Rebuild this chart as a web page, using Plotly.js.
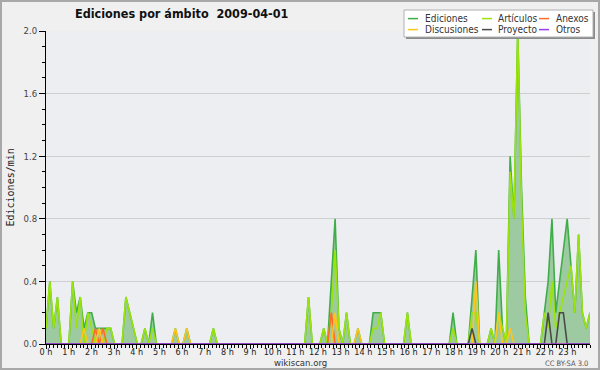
<!DOCTYPE html>
<html><head><meta charset="utf-8">
<script src="https://cdn.plot.ly/plotly-3.0.1.min.js"></script>
<style>html,body{margin:0;padding:0;background:#f0f0f0}#chart{width:600px;height:370px}</style>
</head><body><div id="chart"></div>
<script>
// 10-minute slots, 144 per day (edits per minute)
const ediciones = [
 0.1,0.4,0.1,0.3,0,0,   0,0.4,0.2,0.3,0.1,0.2,   0.2,0.1,0.1,0.1,0.1,0.1,   0,0,0,0.3,0.2,0.1,
 0,0,0.1,0,0.2,0,       0,0,0,0,0.1,0,           0,0.1,0,0,0,0,           0,0,0.1,0,0,0,
 0,0,0,0,0,0,           0,0,0,0,0,0,             0,0,0,0,0,0,             0,0,0,0.3,0,0,
 0,0.1,0,0.4,0.8,0.1,   0,0.2,0,0,0.1,0,         0,0,0.2,0.2,0.2,0,       0,0,0,0,0,0.2,
 0,0,0,0,0,0,           0,0,0,0,0,0.2,           0,0,0,0,0.3,0.6,         0,0,0,0.1,0,0.6,
 0.1,0,1.2,0.8,2.0,1.0, 0.3,0,0,0,0,0.2,         0.4,0.8,0.2,0.4,0.6,0.8, 0.5,0.2,0.7,0.2,0.1,0.2
];
const articulos = [
 0.1,0.4,0.1,0.3,0,0,   0,0.4,0.1,0.3,0,0.2,     0.1,0,0,0,0.1,0.1,       0,0,0,0.3,0.2,0.1,
 0,0,0.1,0,0.1,0,       0,0,0,0,0,0,             0,0,0,0,0,0,             0,0,0.1,0,0,0,
 0,0,0,0,0,0,           0,0,0,0,0,0,             0,0,0,0,0,0,             0,0,0,0.3,0,0,
 0,0.1,0,0.2,0.6,0.1,   0,0.2,0,0,0,0,           0,0,0.1,0.1,0.2,0,       0,0,0,0,0,0.2,
 0,0,0,0,0,0,           0,0,0,0,0,0.1,           0,0,0,0,0.2,0.2,         0,0,0,0.1,0,0.2,
 0.1,0,1.1,0.8,2.0,0.9, 0.2,0,0,0,0,0.2,         0.1,0.4,0.1,0.2,0.3,0.4, 0.5,0.2,0.7,0.2,0.1,0.2
];
const anexos = [
 0,0,0,0,0,0,   0,0,0,0,0,0,   0,0.1,0,0.1,0,0,   0,0,0,0,0,0,
 0,0,0,0,0,0,   0,0,0,0,0,0,   0,0,0,0,0,0,   0,0,0,0,0,0,
 0,0,0,0,0,0,   0,0,0,0,0,0,   0,0,0,0,0,0,   0,0,0,0,0,0,
 0,0,0,0.2,0,0, 0,0,0,0,0,0,   0,0,0,0,0,0,   0,0,0,0,0,0,
 0,0,0,0,0,0,   0,0,0,0,0,0,   0,0,0,0,0,0,   0,0,0,0,0,0,
 0,0,0,0,0,0,   0,0,0,0,0,0,   0,0,0,0,0,0,   0,0,0,0,0,0
];
const discusiones = [
 0,0,0,0,0,0,   0,0,0,0,0.1,0, 0,0,0.1,0,0,0,   0,0,0,0,0,0,
 0,0,0,0,0,0,   0,0,0,0,0.1,0, 0,0.1,0,0,0,0,   0,0,0,0,0,0,
 0,0,0,0,0,0,   0,0,0,0,0,0,   0,0,0,0,0,0,   0,0,0,0,0,0,
 0,0,0,0,0.2,0, 0,0,0,0,0.1,0, 0,0,0,0,0,0,   0,0,0,0,0,0,
 0,0,0,0,0,0,   0,0,0,0,0,0,   0,0,0,0,0,0.4, 0,0,0,0,0,0.2,
 0,0,0.1,0,0,0, 0,0,0,0,0,0,   0,0,0,0,0,0,   0,0,0,0,0,0
];
const proyecto = [
 0,0,0,0,0,0,   0,0,0,0,0,0,   0,0,0,0,0,0,   0,0,0,0,0,0,
 0,0,0,0,0,0,   0,0,0,0,0,0,   0,0,0,0,0,0,   0,0,0,0,0,0,
 0,0,0,0,0,0,   0,0,0,0,0,0,   0,0,0,0,0,0,   0,0,0,0,0,0,
 0,0,0,0,0,0,   0,0,0,0,0,0,   0,0,0,0,0,0,   0,0,0,0,0,0,
 0,0,0,0,0,0,   0,0,0,0,0,0,   0,0,0,0,0.1,0, 0,0,0,0,0,0,
 0,0,0,0,0,0,   0,0,0,0,0,0,   0.2,0,0,0.2,0.2,0, 0,0,0,0,0,0
];
const otros = new Array(144).fill(0);

const seriesNames = ['Ediciones','Artículos','Anexos','Discusiones','Proyecto','Otros'];
const seriesColors = ['#3fae49','#9be30c','#ff6a2a','#ffc61a','#4a4a4a','#9a3cf0'];
const seriesData = [ediciones, articulos, anexos, discusiones, proyecto, otros];
const hourLabels = Array.from({length:24},(_, h) => h + ' h');
const hourVals = Array.from({length:24},(_, h) => h);
const yTicks = [0,0.4,0.8,1.2,1.6,2.0];

// slot index -> hour position (the original spreads 144 samples over the full width)
const xs = ediciones.map((_, i) => i * 24 / 143);

const NARROW = 'Liberation Sans Narrow, DejaVu Sans Condensed, Arial Narrow, sans-serif';

const traces = seriesData.map((d, k) => ({
  type:'scatter', mode:'lines', x: xs, y: d, name: seriesNames[k],
  line:{color: seriesColors[k], width: 1.6},
  fill: k === 0 ? 'tozeroy' : 'none',
  fillcolor: 'rgba(105,178,110,0.6)',
  hoverinfo:'skip', showlegend:false
}));

// plot area in pixels
const L = 46, R = 590, T = 31, B = 344;
const px = v => (v - L) / (R - L);
const py = v => (B - v) / (B - T);

const shapes = [
  {type:'rect', xref:'paper', yref:'paper', x0:px(1), x1:px(599), y0:py(369), y1:py(1),
   line:{color:'#a8a8a8', width:2}, fillcolor:'rgba(0,0,0,0)', layer:'above'},
  {type:'rect', xref:'paper', yref:'paper', x0:px(406), x1:px(595), y0:py(39), y1:py(12),
   line:{width:0}, fillcolor:'#8a8a8a', layer:'above'},
  {type:'rect', xref:'paper', yref:'paper', x0:px(404), x1:px(593), y0:py(37), y1:py(10),
   line:{color:'#b0b0b0', width:1}, fillcolor:'#ffffff', layer:'above'}
];
const annotations = [];
const legCols = [[408,424],[482,497],[539,555]];
const legRows = [18.6, 29.6];
seriesNames.forEach((n, k) => {
  const c = legCols[k % 3], r = legRows[Math.floor(k / 3)];
  shapes.push({type:'line', xref:'paper', yref:'paper', x0:px(c[0]), x1:px(c[0]+10), y0:py(r), y1:py(r),
    line:{color: seriesColors[k], width:1.5}, layer:'above'});
  annotations.push({xref:'paper', yref:'paper', x:px(c[1]), y:py(r), xanchor:'left', yanchor:'middle',
    text:n, showarrow:false, borderpad:0, font:{family:NARROW, size:10, color:'#333'}});
});
annotations.push({xref:'paper', yref:'paper', x:px(10), y:0.5, textangle:-90, xanchor:'center', yanchor:'middle',
  text:'Ediciones/min', showarrow:false, font:{family:'DejaVu Sans Mono, monospace', size:10, color:'#222'}});
annotations.push({xref:'paper', yref:'paper', x:px(300.5), y:py(362), xanchor:'center', yanchor:'middle',
  text:'wikiscan.org', showarrow:false, font:{family:NARROW, size:9.5, color:'#333'}});
annotations.push({xref:'paper', yref:'paper', x:px(589.5), y:py(363), xanchor:'right', yanchor:'middle',
  text:'CC BY-SA 3.0', showarrow:false, font:{family:NARROW, size:7.5, color:'#555'}});

const layout = {
  width:600, height:370,
  margin:{l:L, r:600-R, t:T, b:370-B, pad:0},
  paper_bgcolor:'#f0f0f0', plot_bgcolor:'#edeef1',
  title:{text:'Ediciones por ámbito \u00a02009-04-01', x:75/600, xanchor:'left', xref:'container',
         y:1-14/370, yanchor:'middle', yref:'container',
         font:{family:NARROW, size:12.5, color:'#111', weight:700}},
  xaxis:{range:[0,24], tickmode:'array', tickvals:hourVals, ticktext:hourLabels,
         ticks:'outside', ticklen:4, tickcolor:'#000', showline:true, linecolor:'#000', linewidth:1,
         showgrid:false, zeroline:false, fixedrange:true, ticklabelstandoff:-5,
         tickfont:{family:NARROW, size:9, color:'#222'},
         minor:{dtick:1/6, tick0:0, ticks:'outside', ticklen:3, tickcolor:'#000', showgrid:false}},
  yaxis:{range:[0,2], tickmode:'array', tickvals:yTicks, tickformat:'.1f',
         ticks:'outside', ticklen:6, tickcolor:'#000', showline:true, linecolor:'#000', linewidth:1,
         showgrid:true, gridcolor:'#cfcfcf', gridwidth:1, zeroline:false, fixedrange:true,
         tickfont:{family:NARROW, size:9.5, color:'#444'},
         minor:{dtick:0.1, tick0:0, ticks:'outside', ticklen:3, tickcolor:'#000', showgrid:false}},
  shapes: shapes, annotations: annotations, showlegend:false
};
Plotly.newPlot('chart', traces, layout, {staticPlot:true, displayModeBar:false});
</script></body></html>
